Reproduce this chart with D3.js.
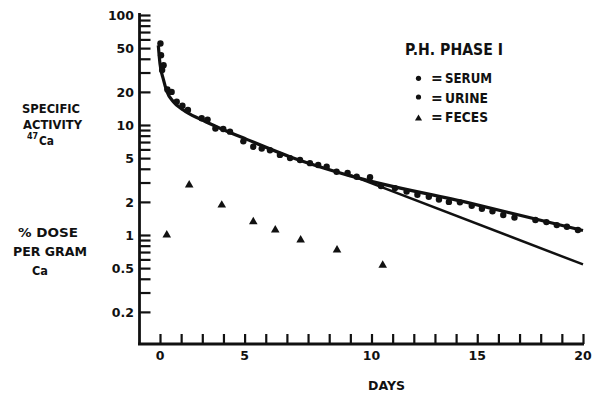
<!DOCTYPE html>
<html>
<head>
<meta charset="utf-8">
<script src="https://cdn.jsdelivr.net/npm/d3@7"></script>
<style>
  body { margin: 0; background: #fff; }
  svg { display: block; }
  text { font-family: "DejaVu Sans", sans-serif; font-weight: bold; fill: #111; }
</style>
</head>
<body>
<svg id="chart" width="600" height="397"></svg>
<script>
// serum and urine share the same filled dot in the figure: [day, specific activity]
const serum = [
  [0.02, 55], [0.05, 43], [0.1, 31.6], [0.17, 35], [0.35, 21], [0.55, 20],
  [0.79, 16.3], [1.06, 15.0], [1.32, 13.7], [1.97, 11.5], [2.25, 11.2],
  [2.62, 9.3], [2.99, 9.2], [3.31, 8.7], [3.94, 7.1], [4.81, 6.1],
  [5.67, 5.35], [6.62, 4.8], [7.48, 4.33], [8.35, 3.76], [9.3, 3.39],
  [10.45, 2.79], [11.66, 2.48], [12.71, 2.23], [13.66, 2.0], [14.74, 1.84],
  [15.72, 1.64], [16.76, 1.44], [18.27, 1.31], [19.24, 1.19]
];
const urine = [
  [4.41, 6.35], [5.2, 5.9], [6.15, 5.0], [7.09, 4.5], [7.88, 4.18],
  [8.87, 3.66], [9.93, 3.35], [11.11, 2.67], [12.17, 2.32], [13.19, 2.1],
  [14.18, 1.98], [15.22, 1.73], [16.23, 1.52], [17.75, 1.37], [18.76, 1.23],
  [19.76, 1.11]
];
// % dose per gram Ca
const feces = [
  [0.32, 1.0], [1.38, 2.85], [2.92, 1.87], [4.41, 1.32], [5.45, 1.11],
  [6.65, 0.9], [8.37, 0.73], [10.53, 0.53]
];
// fitted curve through serum/urine and the single exponential line
const fitCurve = [
  [-0.08, 53], [0, 36], [0.16, 26], [0.32, 20.3], [0.63, 16.3], [1.1, 13.7],
  [1.9, 11.3], [2.7, 9.6], [4.1, 7.4], [6.2, 5.1], [9, 3.45], [14.7, 1.94], [20, 1.1]
];
const fitLine = [[9, 3.5], [20, 0.54]];

const yMajorTicks = [0.2, 0.5, 1, 2, 5, 10, 20, 50, 100];
const yMinorTicks = [0.2, 0.3, 0.4, 0.5, 0.6, 0.7, 0.8, 0.9,
  1, 2, 3, 4, 5, 6, 7, 8, 9, 10, 20, 30, 40, 50, 60, 70, 80, 90, 100];
const xTicks = d3.range(0, 21);
// the original prints its "5" under the 4-day tick
const xTickLabels = [[0, "0"], [4, "5"], [10, "10"], [15, "15"], [20, "20"]];

const svg = d3.select("#chart");

const x = d3.scaleLinear().domain([0, 20]).range([160, 583]);
const y = d3.scaleLog().domain([0.1, 100]).range([345, 15]);

// axes lines
svg.append("line")
  .attr("x1", 139.5).attr("x2", 139.5).attr("y1", 13).attr("y2", 345)
  .attr("stroke", "#111").attr("stroke-width", 2.8);
svg.append("line")
  .attr("x1", 138).attr("x2", 584).attr("y1", 344).attr("y2", 344)
  .attr("stroke", "#111").attr("stroke-width", 2.8);

// y ticks (right of axis)
const yAxis = svg.append("g")
  .attr("transform", "translate(139.5,0)")
  .call(d3.axisRight(y).tickValues(yMinorTicks).tickSize(11).tickFormat(""));
yAxis.select(".domain").remove();
yAxis.selectAll(".tick line").attr("stroke", "#111").attr("stroke-width", 2.2);

// y labels (left of axis)
const yLab = svg.append("g")
  .attr("transform", "translate(134,0)")
  .call(d3.axisLeft(y).tickValues(yMajorTicks).tickSize(0).tickPadding(0)
    .tickFormat(d => String(d)));
yLab.select(".domain").remove();
yLab.selectAll(".tick text")
  .attr("font-size", 12.5).attr("font-family", "DejaVu Sans")
  .attr("font-weight", "bold").attr("fill", "#111").attr("dy", "0.36em");

// x ticks (upward)
const xAxis = svg.append("g")
  .attr("transform", "translate(0,344)")
  .call(d3.axisTop(x).tickValues(xTicks).tickSize(10).tickFormat(""));
xAxis.select(".domain").remove();
xAxis.selectAll(".tick line").attr("stroke", "#111").attr("stroke-width", 2.2);

svg.append("g").selectAll("text")
  .data(xTickLabels)
  .enter()
  .append("text")
  .attr("x", d => x(d[0]))
  .attr("y", 360)
  .attr("text-anchor", "middle")
  .attr("font-size", 12.5)
  .text(d => d[1]);

svg.append("text")
  .attr("x", 368).attr("y", 390)
  .attr("font-size", 13)
  .attr("textLength", 37).attr("lengthAdjust", "spacingAndGlyphs")
  .text("DAYS");

// left labels
const leftLabels = [
  { t: "SPECIFIC", x: 22, y: 113, w: 58 },
  { t: "ACTIVITY", x: 23, y: 129, w: 59 },
  { t: "Ca", x: 39, y: 145, w: 15 },
  { t: "% DOSE", x: 18, y: 237, w: 60 },
  { t: "PER GRAM", x: 13, y: 256, w: 74 },
  { t: "Ca", x: 32, y: 275, w: 16 }
];
svg.append("g").selectAll("text")
  .data(leftLabels)
  .enter()
  .append("text")
  .attr("x", d => d.x).attr("y", d => d.y)
  .attr("font-size", 13)
  .attr("textLength", d => d.w).attr("lengthAdjust", "spacingAndGlyphs")
  .text(d => d.t);
svg.append("text")
  .attr("x", 27).attr("y", 139)
  .attr("font-size", 8)
  .text("47");

// curves
const line = d3.line()
  .x(d => x(d[0]))
  .y(d => y(d[1]))
  .curve(d3.curveMonotoneX);

svg.append("path")
  .attr("d", line(fitCurve))
  .attr("fill", "none").attr("stroke", "#111").attr("stroke-width", 3.2);
svg.append("path")
  .attr("d", line.curve(d3.curveLinear)(fitLine))
  .attr("fill", "none").attr("stroke", "#111").attr("stroke-width", 2.5);

// points
svg.append("g").selectAll("circle")
  .data(serum.concat(urine))
  .enter()
  .append("circle")
  .attr("cx", d => x(d[0]))
  .attr("cy", d => y(d[1]))
  .attr("r", 3.2)
  .attr("fill", "#111");

const tri = d3.symbol().type(d3.symbolTriangle).size(32);
svg.append("g").selectAll("path")
  .data(feces)
  .enter()
  .append("path")
  .attr("d", tri)
  .attr("transform", d => `translate(${x(d[0])},${y(d[1])})`)
  .attr("fill", "#111");

// legend
svg.append("text")
  .attr("x", 405).attr("y", 55)
  .attr("font-size", 16)
  .attr("textLength", 98).attr("lengthAdjust", "spacingAndGlyphs")
  .text("P.H. PHASE I");

const legendItems = [
  { t: "SERUM", y: 83, w: 47, mark: "dot", my: 78.3 },
  { t: "URINE", y: 103, w: 43, mark: "dot", my: 97 },
  { t: "FECES", y: 122, w: 43, mark: "tri", my: 118.5 }
];
const leg = svg.append("g").selectAll("g")
  .data(legendItems)
  .enter()
  .append("g");
leg.append("text")
  .attr("x", 431).attr("y", d => d.y)
  .attr("font-size", 14)
  .text("=");
leg.append("text")
  .attr("x", 445).attr("y", d => d.y)
  .attr("font-size", 14)
  .attr("textLength", d => d.w).attr("lengthAdjust", "spacingAndGlyphs")
  .text(d => d.t);
leg.filter(d => d.mark === "dot")
  .append("circle")
  .attr("cx", 418.5).attr("cy", d => d.my).attr("r", 2.6)
  .attr("fill", "#111");
leg.filter(d => d.mark === "tri")
  .append("path")
  .attr("d", d3.symbol().type(d3.symbolTriangle).size(22))
  .attr("transform", d => `translate(418.5,${d.my})`)
  .attr("fill", "#111");
</script>
</body>
</html>
